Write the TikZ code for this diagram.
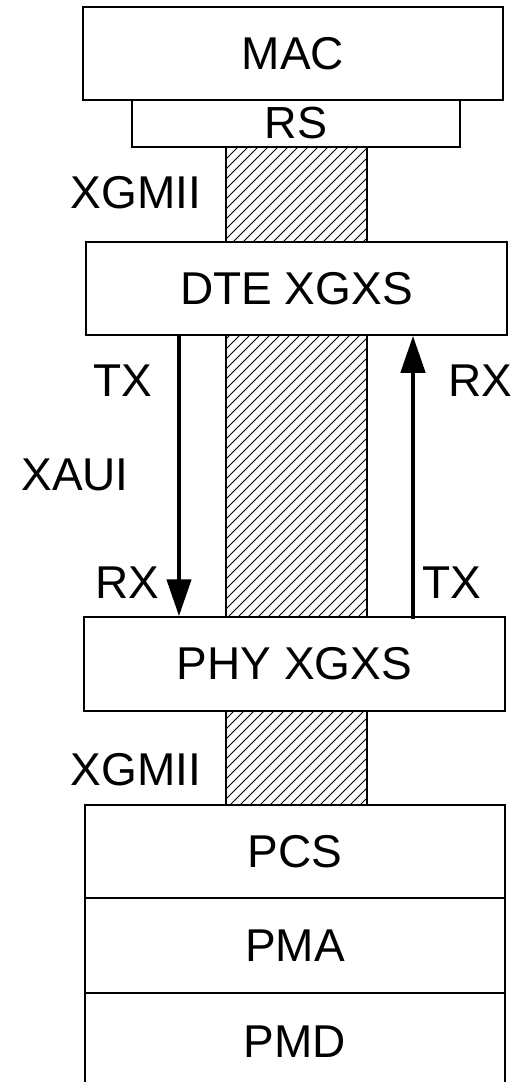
\documentclass[tikz,border=0pt]{standalone}
\usepackage{fontspec}
\setmainfont{Liberation Sans}
\usetikzlibrary{arrows.meta,calc}
\tikzset{
  layer/.style={draw=black,line width=1.5pt,fill=white,inner sep=0pt,
    font=\fontsize{46}{50}\selectfont},
  lbl/.style={inner sep=0pt,font=\fontsize{46}{50}\selectfont},
  arr/.style={line width=4.5pt,-{Triangle[length=37pt,width=24pt]}},
  hatchline/.style={line width=0.9pt,black},
  hatchedge/.style={draw=black,line width=1.5pt}
}
\begin{document}
\begin{tikzpicture}[x=1pt,y=-1pt]
\useasboundingbox (0,0) rectangle (513,1082);
% hatched column
\begin{scope}
  \clip (226,147) rectangle (367,805);
  \foreach \s in {-440,-430,...,380}{
    \draw[hatchline] (\s,805) -- (\s+658,147);
  }
\end{scope}
\draw[hatchedge] (226,147) rectangle (367,805);
% layers
\node[layer,minimum width=420pt,minimum height=93pt] (MAC) at (293,53.5) {MAC};
\node[layer,minimum width=328pt,minimum height=47pt,font=\fontsize{45}{50}\selectfont] (RS) at (296,123.5) {RS};
\node[layer,minimum width=421pt,minimum height=93pt] (DTE) at (296.5,288.5) {DTE XGXS};
\node[layer,minimum width=421pt,minimum height=94pt] (PHY) at (294.5,664) {PHY XGXS};
\node[layer,minimum width=420pt,minimum height=93pt] (PCS) at (295,851.5) {PCS};
\node[layer,minimum width=420pt,minimum height=95pt] (PMA) at (295,945.5) {PMA};
\node[layer,minimum width=420pt,minimum height=97pt] (PMD) at (295,1041.5) {PMD};
% labels
\node[lbl] (xgmii1) at (136,193) {XGMII};
\node[lbl] (xgmii2) at (136,770) {XGMII};
\node[lbl] (xaui) at (75,475) {XAUI};
\node[lbl] (txl) at (123,381) {TX};
\node[lbl] (rxl) at (127,583) {RX};
\node[lbl] (rxr) at (480,381) {RX};
\node[lbl] (txr) at (452,583) {TX};
% arrows
\coordinate (la) at (179,0);
\coordinate (ra) at (413,0);
\draw[arr] (DTE.south -| la) -- (PHY.north -| la);
\draw[arr,shorten <=-3pt] (PHY.north -| ra) -- (DTE.south -| ra);
\end{tikzpicture}
\end{document}
